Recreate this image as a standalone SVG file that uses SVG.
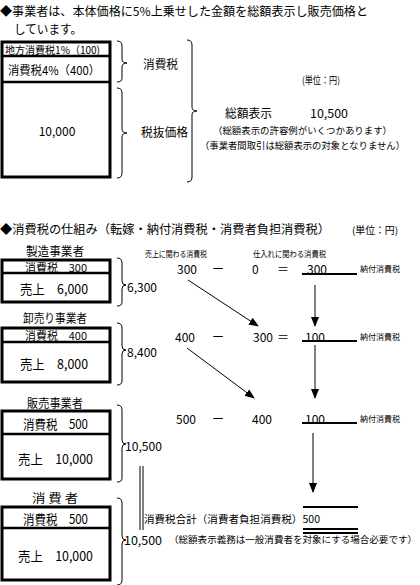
<svg xmlns="http://www.w3.org/2000/svg" width="420" height="585" viewBox="0 0 420 585">
<style>
text{font-family:"Noto Sans CJK JP","Noto Sans CJK SC",sans-serif;fill:#000;dominant-baseline:central}
.box{fill:#fff;stroke:#000;stroke-width:3}
.sep{stroke:#000;stroke-width:2.5}
.br{fill:none;stroke:#000;stroke-width:1}
.ln{stroke:#000;stroke-width:1;fill:none}
.ul{stroke:#000;stroke-width:2}
.f8{font-size:8.5px}.f9{font-size:9.4px}.f10{font-size:10px}.f11{font-size:11px}.f12{font-size:12px}.f13{font-size:13px}
</style>
<defs>
<marker id="ah" markerWidth="10" markerHeight="10" refX="9" refY="5" orient="auto" markerUnits="userSpaceOnUse">
<path d="M0,1 L10,5 L0,9 Z" fill="#000"/>
</marker>
</defs>
<rect width="420" height="585" fill="#fff"/>

<g id="title1">
<text x="0" y="10" style="font-size:12px" textLength="368" lengthAdjust="spacingAndGlyphs">◆事業者は、本体価格に5%上乗せした金額を総額表示し販売価格と</text>
<text x="14" y="28" style="font-size:12px" textLength="68" lengthAdjust="spacingAndGlyphs">しています。</text>
</g>

<g id="price-box">
<rect class="box" x="2" y="42" width="108" height="135"/>
<line class="sep" x1="2" y1="56" x2="110" y2="56"/>
<line class="sep" x1="2" y1="82" x2="110" y2="82"/>
<text style="font-size:10.5px" x="5" y="49" textLength="95" lengthAdjust="spacingAndGlyphs">地方消費税1%（100)</text>
<text class="f12" x="8" y="69" textLength="92" lengthAdjust="spacingAndGlyphs">消費税4%（400）</text>
<text class="f12" x="57" y="130" text-anchor="middle">10,000</text>
</g>

<g id="brace-tax">
<path class="br" d="M117,41 Q122,41 122,46 L122,59 Q122,63 127,63 Q122,63 122,67 L122,78 Q122,82 117,82"/>
<text class="f12" x="143" y="63" textLength="35" lengthAdjust="spacingAndGlyphs">消費税</text>
</g>
<g id="brace-base">
<path class="br" d="M117,88 Q122,88 122,93 L122,129 Q122,133 127,133 Q122,133 122,137 L122,173 Q122,178 117,178"/>
<text class="f12" x="141" y="131" textLength="47" lengthAdjust="spacingAndGlyphs">税抜価格</text>
</g>
<g id="brace-total">
<path class="br" d="M187,40 Q192,40 192,45 L192,107 Q192,111 197,111 Q192,111 192,115 L192,177 Q192,182 187,182"/>
<text class="f10" x="302" y="79" textLength="38" lengthAdjust="spacingAndGlyphs">(単位：円)</text>
<text class="f12" x="225" y="112" textLength="47" lengthAdjust="spacingAndGlyphs">総額表示</text>
<text class="f12" x="310" y="112" textLength="38" lengthAdjust="spacingAndGlyphs">10,500</text>
<text class="f9" x="213" y="130" textLength="179" lengthAdjust="spacingAndGlyphs">（総額表示の許容例がいくつかあります）</text>
<text class="f9" x="200" y="145" textLength="205" lengthAdjust="spacingAndGlyphs">（事業者間取引は総額表示の対象となりません）</text>
</g>

<g id="title2">
<text x="0" y="229" style="font-size:12.2px" textLength="330" lengthAdjust="spacingAndGlyphs">◆消費税の仕組み（転嫁・納付消費税・消費者負担消費税）</text>
<text class="f10" x="352" y="229" textLength="46" lengthAdjust="spacingAndGlyphs">(単位：円)</text>
</g>

<g id="manufacturer">
<text class="f12" x="55" y="250" text-anchor="middle" textLength="58" lengthAdjust="spacingAndGlyphs">製造事業者</text>
<rect class="box" x="2" y="260" width="108" height="42"/>
<line class="sep" x1="2" y1="273" x2="110" y2="273"/>
<text class="f11" x="25" y="267" textLength="62" lengthAdjust="spacingAndGlyphs">消費税　300</text>
<text class="f13" x="20" y="288" textLength="68" lengthAdjust="spacingAndGlyphs">売上　6,000</text>
<path class="br" d="M117,258 Q122,258 122,263 L122,281 Q122,285 126,285 Q122,285 122,289 L122,302 Q122,306 117,306"/>
<text class="f12" x="127" y="286">6,300</text>
</g>

<g id="wholesaler">
<text class="f12" x="55" y="317" text-anchor="middle" textLength="64" lengthAdjust="spacingAndGlyphs">卸売り事業者</text>
<rect class="box" x="2" y="328" width="108" height="54"/>
<line class="sep" x1="2" y1="342" x2="110" y2="342"/>
<text class="f11" x="25" y="335" textLength="62" lengthAdjust="spacingAndGlyphs">消費税　400</text>
<text class="f13" x="20" y="363" textLength="68" lengthAdjust="spacingAndGlyphs">売上　8,000</text>
<path class="br" d="M117,323 Q122,323 122,328 L122,346 Q122,350 126,350 Q122,350 122,354 L122,381 Q122,385 117,385"/>
<text class="f12" x="127" y="351">8,400</text>
</g>

<g id="retailer">
<text class="f12" x="55" y="402" text-anchor="middle" textLength="56" lengthAdjust="spacingAndGlyphs">販売事業者</text>
<rect class="box" x="2" y="411" width="108" height="68"/>
<line class="sep" x1="2" y1="434" x2="110" y2="434"/>
<text class="f13" x="23" y="423" textLength="65" lengthAdjust="spacingAndGlyphs">消費税　500</text>
<text class="f13" x="18" y="458" textLength="75" lengthAdjust="spacingAndGlyphs">売上　10,000</text>
<path class="br" d="M117,405 Q122,405 122,410 L122,440 Q122,444 126,444 Q122,444 122,448 L122,478 Q122,482 117,482"/>
<text class="f12" x="125" y="445" textLength="37" lengthAdjust="spacingAndGlyphs">10,500</text>
</g>

<g id="consumer">
<text class="f12" x="55" y="497" text-anchor="middle" textLength="46" lengthAdjust="spacingAndGlyphs">消 費 者</text>
<rect class="box" x="2" y="507" width="108" height="73"/>
<line class="sep" x1="2" y1="528" x2="110" y2="528"/>
<text class="f13" x="23" y="518" textLength="65" lengthAdjust="spacingAndGlyphs">消費税　500</text>
<text class="f13" x="18" y="555" textLength="75" lengthAdjust="spacingAndGlyphs">売上　10,000</text>
<path class="br" d="M117,498 Q122,498 122,503 L122,536 Q122,540 126,540 Q122,540 122,544 L122,580 Q122,585 117,585"/>
<text class="f12" x="124" y="539" textLength="38" lengthAdjust="spacingAndGlyphs">10,500</text>
<text x="169" y="539" style="font-size:9.5px" textLength="248" lengthAdjust="spacingAndGlyphs">（総額表示義務は一般消費者を対象にする場合必要です）</text>
</g>

<g id="calc">
<text class="f8" x="145" y="253" textLength="62" lengthAdjust="spacingAndGlyphs">売上に関わる消費税</text>
<text class="f8" x="253" y="253" textLength="73" lengthAdjust="spacingAndGlyphs">仕入れに関わる消費税</text>

<text class="f12" x="177" y="268">300</text>
<text class="f12" x="212" y="268">ー</text>
<text class="f12" x="252" y="268">0</text>
<text class="f12" x="277" y="268">＝</text>
<text class="f12" x="307" y="268">300</text>
<line class="ul" x1="302" y1="274" x2="357" y2="274"/>
<text class="f8" x="360" y="268" textLength="40" lengthAdjust="spacingAndGlyphs">納付消費税</text>

<text class="f12" x="175" y="336">400</text>
<text class="f12" x="212" y="336">ー</text>
<text class="f12" x="253" y="336">300</text>
<text class="f12" x="277" y="336">＝</text>
<text class="f12" x="305" y="336">100</text>
<line class="ul" x1="302" y1="341" x2="357" y2="341"/>
<text class="f8" x="360" y="336" textLength="40" lengthAdjust="spacingAndGlyphs">納付消費税</text>

<text class="f12" x="176" y="418">500</text>
<text class="f12" x="212" y="418">ー</text>
<text class="f12" x="252" y="418">400</text>
<text class="f12" x="305" y="418">100</text>
<line class="ul" x1="302" y1="423" x2="357" y2="423" stroke-width="3"/>
<text class="f8" x="360" y="418" textLength="40" lengthAdjust="spacingAndGlyphs">納付消費税</text>

<line class="ul" x1="303" y1="507" x2="358" y2="507"/>
<text style="font-size:10.5px" x="144" y="518" textLength="176" lengthAdjust="spacingAndGlyphs">消費税合計（消費者負担消費税）500</text>
<line class="ul" x1="303" y1="529" x2="358" y2="529"/>
<line class="ul" x1="303" y1="533" x2="358" y2="533"/>
</g>

<g id="connectors">
<line class="ln" x1="188" y1="280" x2="258" y2="326" marker-end="url(#ah)"/>
<line class="ln" x1="315" y1="285" x2="315" y2="326" marker-end="url(#ah)"/>
<line class="ln" x1="187" y1="348" x2="254" y2="398" marker-end="url(#ah)"/>
<line class="ln" x1="315" y1="345" x2="315" y2="398" marker-end="url(#ah)"/>
<line class="ln" x1="313" y1="433" x2="313" y2="492" marker-end="url(#ah)"/>
<line class="ln" x1="140" y1="466" x2="140" y2="530"/>
<line class="ln" x1="143" y1="466" x2="143" y2="530"/>
</g>
</svg>
